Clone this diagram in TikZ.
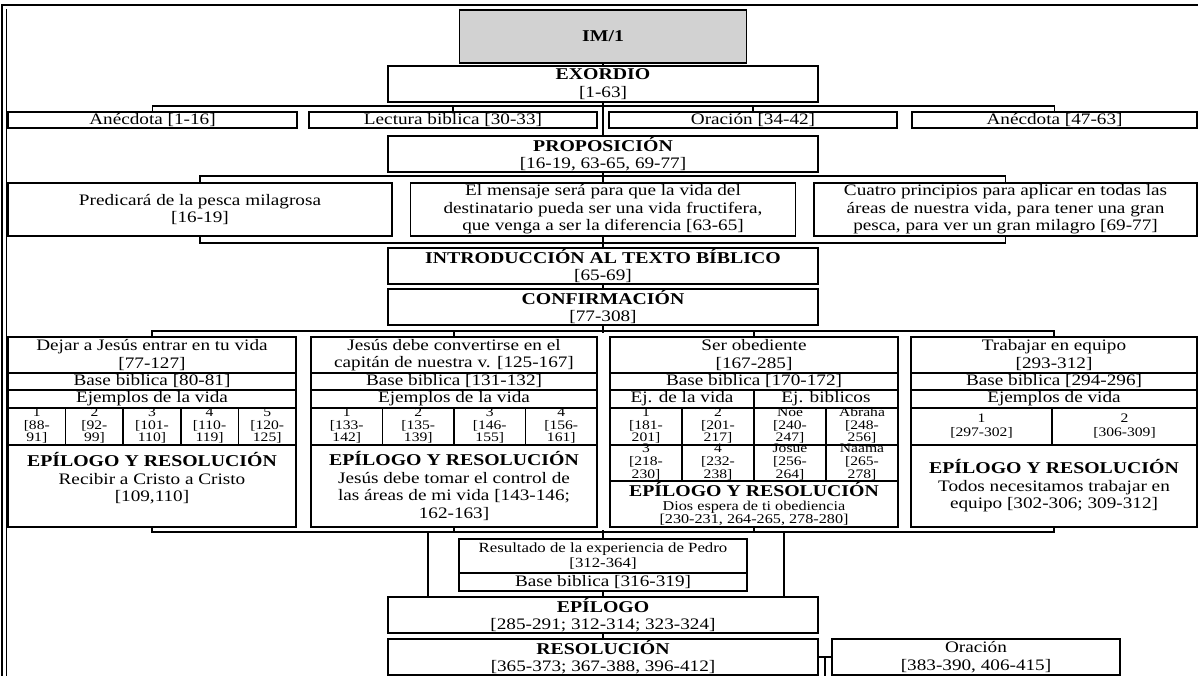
\documentclass[tikz,border=0pt]{standalone}
\usepackage{fontspec}
\setmainfont{Liberation Serif}[FakeStretch=1.2]

\newcommand\boxfont{\fontsize{16}{17.5}\selectfont}
\newcommand\headfont{\fontsize{16.5}{17.5}\selectfont\bfseries}
\newcommand\epifont{\fontsize{16.5}{18}\selectfont\bfseries}
\newcommand\cellfont{\fontsize{13}{14}\selectfont}
\newcommand\tinyfont{\fontsize{13.5}{13.5}\selectfont}
\newcommand\pedrofont{\fontsize{14}{14.5}\selectfont}
\newcommand\cellstack[1]{\smash{\raisebox{-3pt}{\renewcommand\arraystretch{0.92}\begin{tabular}{@{}c@{}}#1\end{tabular}}}}

\begin{document}
\begin{tikzpicture}[
        x=1pt, y=-1pt,
        box/.style={rectangle, draw=black, line width=1.7pt, inner sep=0pt, align=center, font=\boxfont},
        mid/.style={box, minimum width=430pt, minimum height=36pt},
        cell/.style={box, minimum height=37pt, font=\cellfont},
        link/.style={line width=1.7pt},
        pageframe/.style={line width=1.6pt}
    ]
        \useasboundingbox (0,0) rectangle (1198,676);

        % Frame
        \draw[pageframe] (2,676) -- (2,5) -- (1198,5);
        \draw[pageframe] (6.5,9) -- (6.5,676);

        % Exordio
        \node (im) [box, fill=gray!35, minimum width=287pt, minimum height=53pt, font=\headfont] at (603,36.5) {IM/1};
        \node (exordio) [mid] at (603,84) {{\headfont EXORDIO}\\{}[1-63]};
        \node (anec1) [box, minimum width=289pt, minimum height=16pt] at (152.5,120) {Anécdota [1-16]};
        \node (lectura) [box, minimum width=288pt, minimum height=16pt] at (453,120) {Lectura biblica [30-33]};
        \node (oracion) [box, minimum width=288pt, minimum height=16pt] at (753,120) {Oración [34-42]};
        \node (anec2) [box, minimum width=285pt, minimum height=16pt] at (1054.5,120) {Anécdota [47-63]};

        % Proposicion
        \node (propos) [mid] at (603,154) {{\headfont PROPOSICIÓN}\\{}[16-19, 63-65, 69-77]};
        \node (pred) [box, minimum width=384pt, minimum height=53pt] at (200,209.5) {Predicará de la pesca milagrosa\\{}[16-19]};
        \node (mensaje) [box, minimum width=385pt, minimum height=53pt] at (603,209.5) {El mensaje será para que la vida del\\destinatario pueda ser una vida fructifera,\\que venga a ser la diferencia [63-65]};
        \node (cuatro) [box, minimum width=383pt, minimum height=53pt] at (1005.5,209.5) {Cuatro principios para aplicar en todas las\\áreas de nuestra vida, para tener una gran\\pesca, para ver un gran milagro [69-77]};

        % Introduccion y confirmacion
        \node (intro) [mid] at (603,266) {{\headfont INTRODUCCIÓN AL TEXTO BÍBLICO}\\{}[65-69]};
        \node (confirm) [mid] at (603,307) {{\headfont CONFIRMACIÓN}\\{}[77-308]};

        % Columna 1
        \node (t1) [box, minimum width=288pt, minimum height=36pt] at (152,355) {Dejar a Jesús entrar en tu vida\\{}[77-127]};
        \node (b1) [box, minimum width=288pt, minimum height=17pt] at (152,381.5) {Base biblica [80-81]};
        \node (x1) [box, minimum width=288pt, minimum height=18pt] at (152,399) {Ejemplos de la vida};
        \node (n11) [cell, minimum width=57.6pt] at (36.8,426.5) {\cellstack{1\\{}[88-\\91]}};
        \node (n12) [cell, minimum width=57.6pt] at (94.4,426.5) {\cellstack{2\\{}[92-\\99]}};
        \node (n13) [cell, minimum width=57.6pt] at (152,426.5) {\cellstack{3\\{}[101-\\110]}};
        \node (n14) [cell, minimum width=57.6pt] at (209.6,426.5) {\cellstack{4\\{}[110-\\119]}};
        \node (n15) [cell, minimum width=57.6pt] at (267.2,426.5) {\cellstack{5\\{}[120-\\125]}};
        \node (e1) [box, minimum width=288pt, minimum height=82pt] at (152,486) {{\epifont EPÍLOGO Y RESOLUCIÓN}\\Recibir a Cristo a Cristo\\{}[109,110]\\\mbox{}};

        % Columna 2
        \node (t2) [box, minimum width=286pt, minimum height=36pt] at (454,355) {Jesús debe convertirse en el\\capitán de nuestra v. [125-167]};
        \node (b2) [box, minimum width=286pt, minimum height=17pt] at (454,381.5) {Base biblica [131-132]};
        \node (x2) [box, minimum width=286pt, minimum height=18pt] at (454,399) {Ejemplos de la vida};
        \node (n21) [cell, minimum width=71.5pt] at (346.75,426.5) {\cellstack{1\\{}[133-\\142]}};
        \node (n22) [cell, minimum width=71.5pt] at (418.25,426.5) {\cellstack{2\\{}[135-\\139]}};
        \node (n23) [cell, minimum width=71.5pt] at (489.75,426.5) {\cellstack{3\\{}[146-\\155]}};
        \node (n24) [cell, minimum width=71.5pt] at (561.25,426.5) {\cellstack{4\\{}[156-\\161]}};
        \node (e2) [box, minimum width=286pt, minimum height=82pt] at (454,486) {{\epifont EPÍLOGO Y RESOLUCIÓN}\\Jesús debe tomar el control de\\las áreas de mi vida [143-146;\\162-163]};

        % Columna 3
        \node (t3) [box, minimum width=288pt, minimum height=36pt] at (754,355) {Ser obediente\\{}[167-285]};
        \node (b3) [box, minimum width=288pt, minimum height=17pt] at (754,381.5) {Base biblica [170-172]};
        \node (x3a) [box, minimum width=144pt, minimum height=18pt] at (682,399) {Ej. de la vida};
        \node (x3b) [box, minimum width=144pt, minimum height=18pt] at (826,399) {Ej. biblicos};
        \node (n31) [cell, minimum width=72pt] at (646,426.5) {\cellstack{1\\{}[181-\\201]}};
        \node (n32) [cell, minimum width=72pt] at (718,426.5) {\cellstack{2\\{}[201-\\217]}};
        \node (n33) [cell, minimum width=72pt] at (790,426.5) {\cellstack{Noé\\{}[240-\\247]}};
        \node (n34) [cell, minimum width=72pt] at (862,426.5) {\cellstack{Abraha\\{}[248-\\256]}};
        \node (n35) [cell, minimum width=72pt, minimum height=36pt] at (646,463) {\cellstack{3\\{}[218-\\230]}};
        \node (n36) [cell, minimum width=72pt, minimum height=36pt] at (718,463) {\cellstack{4\\{}[232-\\238]}};
        \node (n37) [cell, minimum width=72pt, minimum height=36pt] at (790,463) {\cellstack{Josue\\{}[256-\\264]}};
        \node (n38) [cell, minimum width=72pt, minimum height=36pt] at (862,463) {\cellstack{Naama\\{}[265-\\278]}};
        \node (e3) [box, minimum width=288pt, minimum height=46pt, font=\tinyfont] at (754,504) {{\epifont EPÍLOGO Y RESOLUCIÓN}\\Dios espera de ti obediencia\\{}[230-231, 264-265, 278-280]};

        % Columna 4
        \node (t4) [box, minimum width=286pt, minimum height=36pt] at (1054,355) {Trabajar en equipo\\{}[293-312]};
        \node (b4) [box, minimum width=286pt, minimum height=17pt] at (1054,381.5) {Base biblica [294-296]};
        \node (x4) [box, minimum width=286pt, minimum height=18pt] at (1054,399) {Ejemplos de vida};
        \node (n41) [cell, minimum width=141pt] at (981.5,426.5) {1\\{}[297-302]};
        \node (n42) [cell, minimum width=145pt] at (1124.5,426.5) {2\\{}[306-309]};
        \node (e4) [box, minimum width=286pt, minimum height=82pt] at (1054,486) {{\epifont EPÍLOGO Y RESOLUCIÓN}\\Todos necesitamos trabajar en\\equipo [302-306; 309-312]};

        % Pedro, epilogo, resolucion
        \node (result) [box, minimum width=288pt, minimum height=34pt, font=\pedrofont] at (603,556) {Resultado de la experiencia de Pedro\\{}[312-364]};
        \node (base5) [box, minimum width=288pt, minimum height=18pt] at (603,582) {Base biblica [316-319]};
        \node (epilogo) [mid] at (603,615) {{\headfont EPÍLOGO}\\{}[285-291; 312-314; 323-324]};
        \node (resol) [mid] at (603,657) {{\headfont RESOLUCIÓN}\\{}[365-373; 367-388, 396-412]};
        \node (oracion2) [box, minimum width=288pt, minimum height=36pt] at (976,657) {Oración\\{}[383-390, 406-415]};

        \coordinate (joinl) at (428,531);
        \coordinate (joinr) at (784,531);
        \coordinate (downr) at (825,676);

        % Connections
        \draw[link] (im.south) -- (exordio.north);
        \draw[link] (anec1.north) -- ++(0,-5) -| (anec2.north);
        \draw[link] (lectura.north) -- ++(0,-5);
        \draw[link] (oracion.north) -- ++(0,-5);
        \draw[link] (exordio.south) -- (propos.north);

        \draw[link] (pred.north) -- ++(0,-6) -| (cuatro.north);
        \draw[link] (mensaje.north) -- (propos.south);
        \draw[link] (pred.south) -- ++(0,6) -| (cuatro.south);
        \draw[link] (mensaje.south) -- (intro.north);
        \draw[link] (intro.south) -- (confirm.north);

        \draw[link] (t1.north) -- ++(0,-5) -| (t4.north);
        \draw[link] (t2.north) -- ++(0,-5);
        \draw[link] (t3.north) -- ++(0,-5);
        \draw[link] (confirm.south) -- ++(0,7);

        \draw[link] (e1.south) -- ++(0,4) -| (e4.south);
        \draw[link] (e2.south) -- ++(0,4);
        \draw[link] (e3.south) -- ++(0,4);
        \draw[link] (result.north) -- ++(0,-8);
        \draw[link] (joinl) -- (joinl |- epilogo.north);
        \draw[link] (joinr) -- (joinr |- epilogo.north);
        \draw[link] (base5.south) -- (epilogo.north);
        \draw[link] (epilogo.south) -- (resol.north);
        \draw[link] (resol.east) -- (oracion2.west);
        \draw[link] (downr |- resol.east) -- (downr);
    \end{tikzpicture}
\end{document}
